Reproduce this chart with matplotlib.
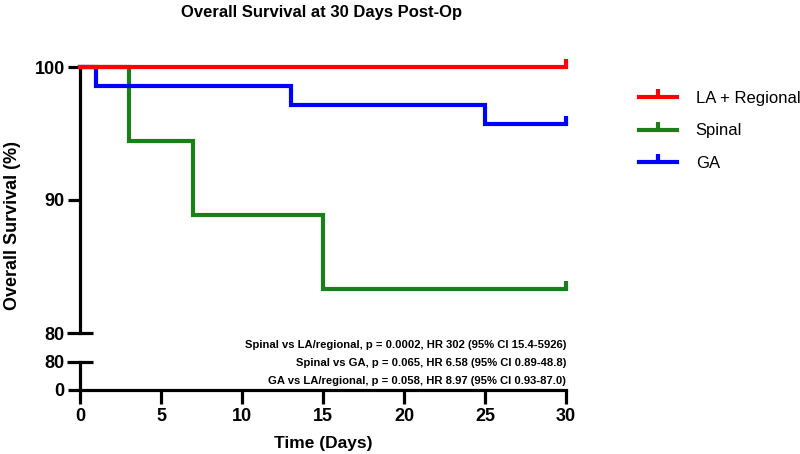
import matplotlib
matplotlib.use("Agg")
import matplotlib.pyplot as plt
import numpy as np

plt.rcParams['font.family'] = ['Liberation Sans', 'DejaVu Sans']

# Data
la_time = [0, 30]
la_surv = [100, 100]
spinal_time = [0, 3, 7, 15, 30]
spinal_surv = [100, 94.44, 88.89, 83.33, 83.33]
ga_time = [0, 1, 13, 25, 30]
ga_surv = [100, 98.57, 97.14, 95.71, 95.71]
series_names = ["LA + Regional", "Spinal", "GA"]
series_colors = ["#ff0000", "#1a7f1a", "#0000ff"]
x_ticks = [0, 5, 10, 15, 20, 25, 30]
annotations = [
    "Spinal vs LA/regional, p = 0.0002, HR 302 (95% CI 15.4-5926)",
    "Spinal vs GA, p = 0.065, HR 6.58 (95% CI 0.89-48.8)",
    "GA vs LA/regional, p = 0.058, HR 8.97 (95% CI 0.93-87.0)",
]

W, H = 800, 454
fig = plt.figure(figsize=(8, 4.54), dpi=100)
L, R = 80 / W, 566 / W
ax = fig.add_axes([L, 1 - 333 / H, R - L, (333 - 67) / H])
axb = fig.add_axes([L, 1 - 390 / H, R - L, (390 - 362) / H])

lw = 3.0
spw = 2.3
series = [(spinal_time, spinal_surv, 1), (ga_time, ga_surv, 2), (la_time, la_surv, 0)]
handles = {}
for t, s, i in series:
    ln, = ax.step(t, s, where='post', color=series_colors[i], lw=lw, clip_on=False,
                  solid_joinstyle='miter', zorder=3 + (i == 0))
    ax.plot([t[-1]], [s[-1]], marker=2, markersize=6, mew=lw, color=series_colors[i],
            clip_on=False, zorder=3)
    handles[i] = plt.Line2D([], [], color=series_colors[i], lw=lw, marker=2,
                            markersize=6, mew=lw)

for a in (ax, axb):
    a.set_xlim(0, 30)
    for sp in ('top', 'right'):
        a.spines[sp].set_visible(False)
    a.spines['left'].set_linewidth(spw)
    a.spines['bottom'].set_linewidth(spw)

tls = 13
ax.set_ylim(80, 100)
ax.spines['bottom'].set_visible(False)
ax.set_xticks([])
ax.set_yticks([90, 100])
ax.set_yticks([80], labels=['80'], minor=True)
ax.tick_params(axis='y', which='major', direction='out', length=9, width=spw,
               labelsize=tls, pad=2)
ax.tick_params(axis='y', which='minor', direction='inout', length=19, width=spw,
               labelsize=tls, pad=2)

axb.set_ylim(0, 80)
axb.set_yticks([0])
axb.set_yticks([80], labels=['80'], minor=True)
axb.tick_params(axis='y', which='major', direction='out', length=9, width=spw,
                labelsize=tls, pad=2)
axb.tick_params(axis='y', which='minor', direction='inout', length=19, width=spw,
                labelsize=tls, pad=2)
axb.set_xticks(x_ticks)
axb.tick_params(axis='x', direction='out', length=10, width=spw, labelsize=tls, pad=3)
for a in (ax, axb):
    for lab in a.get_yticklabels(which='both') + a.get_xticklabels():
        lab.set_fontweight('bold')
axb.set_xlabel("Time (Days)", fontsize=12.5, fontweight='bold', labelpad=8)

fig.text(13 / W, 1 - 226 / H, "Overall Survival (%)", rotation=90, ha='center',
         va='center', fontsize=13, fontweight='bold')
fig.text(322 / W, 1 - 13 / H, "Overall Survival at 30 Days Post-Op", ha='center',
         va='center', fontsize=12, fontweight='bold')

for k, txt in enumerate(annotations):
    fig.text(R, 1 - (345 + 18 * k) / H, txt, ha='right', va='center', fontsize=8.1,
             fontweight='bold')

fig.legend([handles[0], handles[1], handles[2]], series_names, loc='center left',
           bbox_to_anchor=(639 / W, 1 - 131 / H), frameon=False, fontsize=12,
           handlelength=2.3, handletextpad=1.1, labelspacing=1.05, borderpad=0,
           borderaxespad=0)

fig.savefig("out.png", dpi=100)
